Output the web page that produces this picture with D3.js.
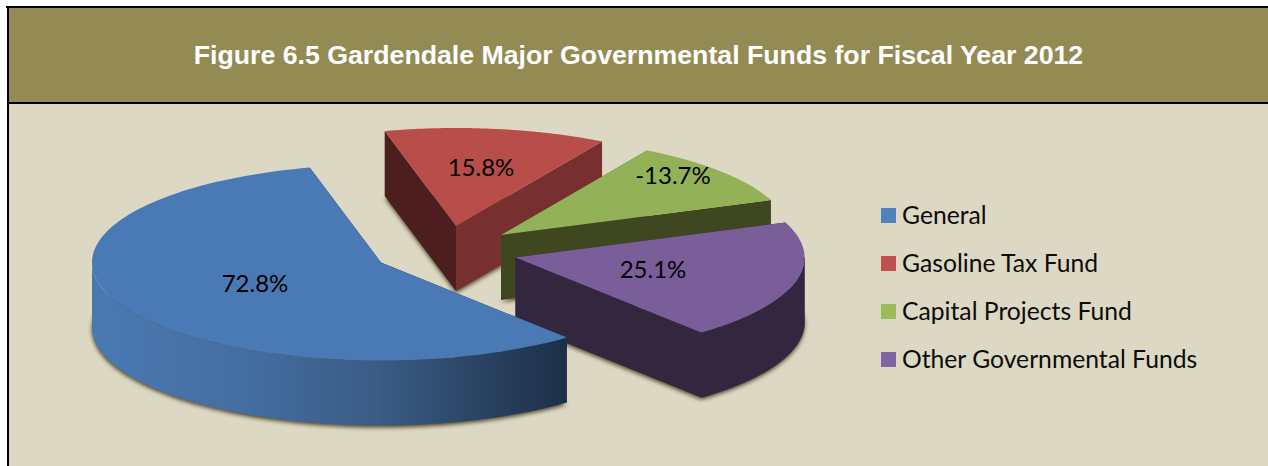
<!DOCTYPE html>
<html>
<head>
<meta charset="utf-8">
<title>Gardendale Major Governmental Funds</title>
<script src="https://cdn.jsdelivr.net/npm/d3@7/dist/d3.min.js"></script>
<style>
  html, body { margin: 0; padding: 0; background: #fff; }
  svg { display: block; }
</style>
</head>
<body>
<svg id="chart" width="1268" height="466"></svg>
<script>
// Chart content
const titleText = "Figure 6.5 Gardendale Major Governmental Funds for Fiscal Year 2012";
const categories = ["General", "Gasoline Tax Fund", "Capital Projects Fund", "Other Governmental Funds"];
const percents = [72.8, 15.8, -13.7, 25.1];

// Slice styling, in category order
const topColors = ["#4a7ab5", "#b94d4a", "#93b157", "#7a5e9a"];
const legendColors = ["#4f81bd", "#c0504d", "#9bbb59", "#8064a2"];
const startWallColors = ["#1d3149", "#4c1e1e", "#3e4720", "#33273f"];
const endWallColors = ["#1d3149", "#782f2f", "#3e4720", "#33273f"];
const outerWallColors = ["#1d3149", "#782f2f", "#3e4720", "#33273f"];
// Where each slice's point sits once it has been pulled out of the pie
const apexX = [381, 456, 501, 515.5];
const apexY = [262.5, 226, 235, 257.5];
// Label anchors, in page coordinates
const labelX = [255, 481, 673, 653];
const labelY = [284, 168, 176, 270];
const drawOrder = [1, 2, 3, 0];

const W = 1268, H = 466;
const RX = 289, RY = 98, DEPTH = 65;
const TAU = 2 * Math.PI;
const svg = d3.select("#chart");

// Page furniture: panel, header band and their rules
svg.append("rect").attr("x", 8).attr("y", 7).attr("width", W - 8).attr("height", H - 7).attr("fill", "#ddd8c3");
svg.append("rect").attr("x", 8).attr("y", 7).attr("width", W - 8).attr("height", 95).attr("fill", "#948a54");
svg.append("rect").attr("x", 6).attr("y", 6).attr("width", W - 6).attr("height", 2).attr("fill", "#000");
svg.append("rect").attr("x", 7).attr("y", 6).attr("width", 2).attr("height", H - 6).attr("fill", "#000");
svg.append("rect").attr("x", 7).attr("y", 102).attr("width", W - 7).attr("height", 2).attr("fill", "#000");

svg.append("text")
  .attr("x", 638.5).attr("y", 64)
  .attr("text-anchor", "middle")
  .attr("font-family", "'Liberation Sans', Arial, sans-serif")
  .attr("font-weight", "bold").attr("font-size", 26.7)
  .attr("fill", "#fff")
  .text(titleText);

// Slice angles, clockwise from the top of the pie
const pie = d3.pie()
  .value(v => Math.abs(v))
  .sort(null)
  .startAngle(140 * Math.PI / 180)
  .endAngle(500 * Math.PI / 180);
const slices = pie(percents);

// The pie is a circle flattened onto an ellipse
const scaleX = d3.scaleLinear().domain([-1, 1]).range([-RX, RX]);
const scaleY = d3.scaleLinear().domain([-1, 1]).range([-RY, RY]);
const rimPoint = (i, a, drop = 0) => [
  apexX[i] + scaleX(Math.sin(a)),
  apexY[i] + scaleY(-Math.cos(a)) + drop
];
const apexPoint = (i, drop = 0) => [apexX[i], apexY[i] + drop];
const sampleAngles = (a0, a1) => d3.range(0, 121).map(k => a0 + (a1 - a0) * k / 120);
const polyLine = d3.line();
const closed = pts => polyLine(pts) + "Z";

const sectorPath = (i, drop = 0) => closed([
  apexPoint(i, drop),
  ...sampleAngles(slices[i].startAngle, slices[i].endAngle).map(a => rimPoint(i, a, drop))
]);

// Curved wall, limited to the part of the rim facing the viewer.
// Angles run past a full turn for the last slices, so both windows are tried.
function outerWallPath(i) {
  const parts = [0, TAU].map(turn => {
    const a0 = Math.max(slices[i].startAngle, Math.PI / 2 + turn);
    const a1 = Math.min(slices[i].endAngle, 3 * Math.PI / 2 + turn);
    if (a1 <= a0) return null;
    const angles = sampleAngles(a0, a1);
    return closed([
      ...angles.map(a => rimPoint(i, a)),
      ...angles.slice().reverse().map(a => rimPoint(i, a, DEPTH))
    ]);
  }).filter(Boolean);
  return parts.length ? parts.join("") : null;
}
const cutWallPath = (i, a) => closed([
  apexPoint(i), rimPoint(i, a), rimPoint(i, a, DEPTH), apexPoint(i, DEPTH)
]);

const defs = svg.append("defs");
defs.append("filter").attr("id", "groundBlur")
  .attr("x", "-5%").attr("y", "-5%").attr("width", "110%").attr("height", "110%")
  .append("feGaussianBlur").attr("stdDeviation", 2.2);

// Horizontal shading across the general fund's curved wall
const wallShade = defs.append("linearGradient").attr("id", "generalWall")
  .attr("gradientUnits", "userSpaceOnUse")
  .attr("x1", apexX[0] - RX).attr("x2", rimPoint(0, slices[0].startAngle)[0])
  .attr("y1", 0).attr("y2", 0);
wallShade.append("stop").attr("offset", "0%").attr("stop-color", "#4a79b2");
wallShade.append("stop").attr("offset", "30%").attr("stop-color", "#456fa3");
wallShade.append("stop").attr("offset", "60%").attr("stop-color", "#3a5c85");
wallShade.append("stop").attr("offset", "100%").attr("stop-color", "#1c2f47");

// Soft ground shadow under the base of each slice
svg.append("g").attr("filter", "url(#groundBlur)")
  .selectAll("path").data(drawOrder).join("path")
  .attr("d", i => sectorPath(i, DEPTH + 2))
  .attr("fill", "#4f4529");

// Slices, back to front
drawOrder.forEach(i => {
  const g = svg.append("g");
  const outer = outerWallPath(i);
  g.append("path").attr("d", cutWallPath(i, slices[i].startAngle))
    .attr("fill", startWallColors[i]);
  g.append("path").attr("d", cutWallPath(i, slices[i].endAngle))
    .attr("fill", endWallColors[i]);
  if (outer) {
    // A hairline of the same paint closes the seam against the cut wall
    const paint = i === 0 ? "url(#generalWall)" : outerWallColors[i];
    g.append("path").attr("d", outer).attr("fill", paint)
      .attr("stroke", i === 0 ? "none" : paint).attr("stroke-width", 0.6);
  }
  g.append("path").attr("d", sectorPath(i)).attr("fill", topColors[i]);
});

// Value labels
svg.append("g").selectAll("text").data(percents).join("text")
  .attr("x", (d, i) => labelX[i])
  .attr("y", (d, i) => labelY[i] + 8)
  .attr("text-anchor", "middle")
  .attr("font-family", "Lato, 'Open Sans', sans-serif")
  .attr("font-size", 24)
  .attr("fill", "#000")
  .text(d => d.toFixed(1) + "%");

// Legend
const legendY = d3.scalePoint().domain(categories).range([215.5, 359.5]);
const legend = svg.append("g").selectAll("g").data(categories).join("g")
  .attr("transform", d => `translate(0,${legendY(d)})`);
legend.append("rect")
  .attr("x", 881).attr("y", -7.5).attr("width", 15).attr("height", 15)
  .attr("fill", (d, i) => legendColors[i]);
legend.append("text")
  .attr("x", 902).attr("y", 8.5)
  .attr("font-family", "Lato, 'Open Sans', sans-serif")
  .attr("font-size", 24.7)
  .attr("fill", "#0c0c0c")
  .text(d => d);
</script>
</body>
</html>
